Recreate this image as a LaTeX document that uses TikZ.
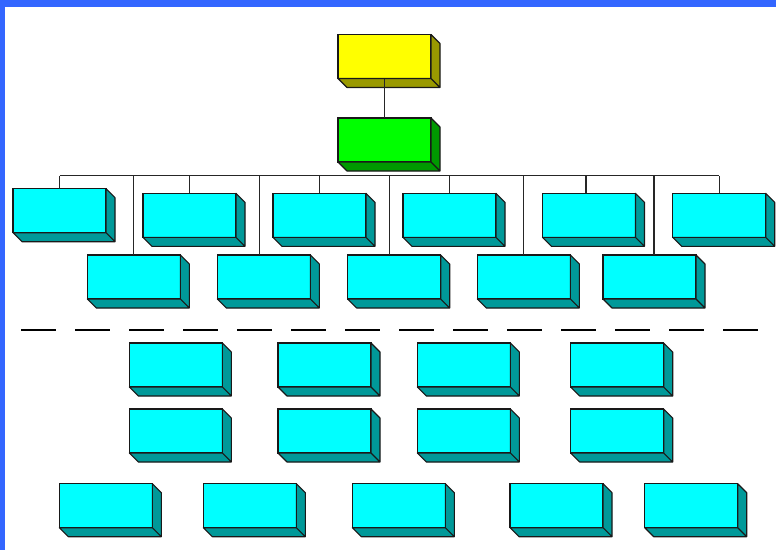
\documentclass[tikz,border=0pt]{standalone}
\usetikzlibrary{calc}
\definecolor{frameblue}{HTML}{3366FF}
\definecolor{unitcyan}{HTML}{00FFFF}
\definecolor{sidecyan}{HTML}{009999}
\definecolor{unityellow}{HTML}{FFFF00}
\definecolor{sideyellow}{HTML}{999900}
\definecolor{unitgreen}{HTML}{00FF00}
\definecolor{sidegreen}{HTML}{009900}
\newcommand{\orgunit}[4]{%
  \node[unitbox, fill=#3] (#1) at (#2) {};
  \draw[sideface, fill=#4] (#1.north east) -- ++(9,9) -- ++(0,44) -- ++(-93,0)
    -- (#1.south west) -- (#1.south east) -- cycle (#1.south east) -- ++(9,9);
}

\begin{document}
\begin{tikzpicture}[
    x=1pt, y=-1pt,
    unitbox/.style={draw=black!90, line width=1.1pt, minimum width=93pt, minimum height=44pt, inner sep=0pt, outer sep=0pt},
    sideface/.style={draw=black!90, line width=1.1pt, line join=round},
    orgline/.style={draw=black!85, line width=1.1pt},
    divider/.style={line width=2pt, dash pattern=on 35pt off 19pt}
  ]
    \useasboundingbox (0,0) rectangle (776,550);
    \fill[frameblue] (0,0) rectangle (776,7);
    \fill[frameblue] (0,0) rectangle (5,550);

    \orgunit{head}{384.5,56.5}{unityellow}{sideyellow}
    \orgunit{deputy}{384.5,140}{unitgreen}{sidegreen}

    \orgunit{dept1}{59.5,210.7}{unitcyan}{sidecyan}
    \orgunit{dept2}{189.5,215.3}{unitcyan}{sidecyan}
    \orgunit{dept3}{319.5,215.3}{unitcyan}{sidecyan}
    \orgunit{dept4}{449.5,215.3}{unitcyan}{sidecyan}
    \orgunit{dept5}{589,215.3}{unitcyan}{sidecyan}
    \orgunit{dept6}{719.2,215.3}{unitcyan}{sidecyan}

    \orgunit{sec1}{133.8,277}{unitcyan}{sidecyan}
    \orgunit{sec2}{263.8,277}{unitcyan}{sidecyan}
    \orgunit{sec3}{394.2,277}{unitcyan}{sidecyan}
    \orgunit{sec4}{523.8,277}{unitcyan}{sidecyan}
    \orgunit{sec5}{649.5,277}{unitcyan}{sidecyan}

    \draw[divider] (21,329.7) -- (761,329.7);

    \orgunit{lowa1}{175.8,365}{unitcyan}{sidecyan}
    \orgunit{lowa2}{324.5,365}{unitcyan}{sidecyan}
    \orgunit{lowa3}{463.8,365}{unitcyan}{sidecyan}
    \orgunit{lowa4}{617.2,365}{unitcyan}{sidecyan}

    \orgunit{lowb1}{175.8,431}{unitcyan}{sidecyan}
    \orgunit{lowb2}{324.5,431}{unitcyan}{sidecyan}
    \orgunit{lowb3}{463.8,431}{unitcyan}{sidecyan}
    \orgunit{lowb4}{617.2,431}{unitcyan}{sidecyan}

    \orgunit{base1}{105.8,505.7}{unitcyan}{sidecyan}
    \orgunit{base2}{249.8,505.7}{unitcyan}{sidecyan}
    \orgunit{base3}{398.8,505.7}{unitcyan}{sidecyan}
    \orgunit{base4}{556.5,505.7}{unitcyan}{sidecyan}
    \orgunit{base5}{691.2,505.7}{unitcyan}{sidecyan}

    \coordinate (bus) at (0,175.5);
    \draw[orgline] (head.south) -- (deputy.north);
    \draw[orgline] (dept1.north |- bus) -- (dept6.north |- bus);
    \draw[orgline] (dept1.north) -- (dept1.north |- bus);
    \draw[orgline] (dept2.north) -- (dept2.north |- bus);
    \draw[orgline] (dept3.north) -- (dept3.north |- bus);
    \draw[orgline] (dept4.north) -- (dept4.north |- bus);
    \draw[orgline] ([xshift=-3pt]dept5.north) -- ([xshift=-3pt]dept5.north |- bus);
    \draw[orgline] (dept6.north) -- (dept6.north |- bus);
    \draw[orgline] (sec1.north) -- (sec1.north |- bus);
    \draw[orgline] ([xshift=-4.5pt]sec2.north) -- ([xshift=-4.5pt]sec2.north |- bus);
    \draw[orgline] ([xshift=-5pt]sec3.north) -- ([xshift=-5pt]sec3.north |- bus);
    \draw[orgline] (sec4.north) -- (sec4.north |- bus);
    \draw[orgline] ([xshift=4.5pt]sec5.north) -- ([xshift=4.5pt]sec5.north |- bus);
  \end{tikzpicture}
\end{document}
